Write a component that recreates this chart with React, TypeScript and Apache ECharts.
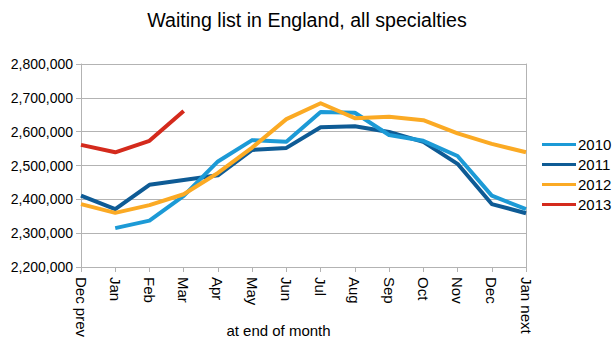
import React, { useEffect, useRef } from "react";
import * as echarts from "echarts";

const categories = ["Dec prev", "Jan", "Feb", "Mar", "Apr", "May", "Jun", "Jul", "Aug", "Sep", "Oct", "Nov", "Dec", "Jan next"];
const yTicks = { min: 2200000, max: 2800000, interval: 100000 };

const s2010 = [null, 2315000, 2337000, 2410000, 2512000, 2575000, 2570000, 2658000, 2656000, 2590000, 2573000, 2528000, 2411000, 2371000];
const s2011 = [2411000, 2371000, 2443000, 2457000, 2471000, 2546000, 2552000, 2613000, 2616000, 2599000, 2570000, 2505000, 2386000, 2359000];
const s2012 = [2386000, 2360000, 2383000, 2415000, 2478000, 2553000, 2637000, 2684000, 2640000, 2644000, 2634000, 2595000, 2564000, 2539000];
const s2013 = [2561000, 2539000, 2573000, 2661000, null, null, null, null, null, null, null, null, null, null];

const seriesNames = ["2010", "2011", "2012", "2013"];
const colors = ["#1c9ad6", "#0e5b95", "#fbaa24", "#d42a1c"];

const FONT = "'Liberation Sans', Arial, sans-serif";
const GRID_COLOR = "#b3b3b3";

export default function App() {
  const ref = useRef<HTMLDivElement>(null);
  useEffect(() => {
    if (!ref.current) return;
    const chart = echarts.init(ref.current, undefined, { renderer: "svg" });
    const data = [s2010, s2011, s2012, s2013];
    chart.setOption({
      animation: false,
      backgroundColor: "#ffffff",
      textStyle: { fontFamily: FONT },
      title: {
        text: "Waiting list in England, all specialties",
        left: 302,
        textAlign: "center",
        top: 5,
        textStyle: { fontFamily: FONT, fontSize: 19.6, fontWeight: "normal", color: "#000" },
      },
      legend: {
        orient: "vertical",
        left: 537,
        top: 132,
        icon: "rect",
        itemWidth: 34,
        itemHeight: 3,
        itemGap: 5,
        data: seriesNames,
        textStyle: { fontFamily: FONT, fontSize: 15, color: "#000", padding: [0, 0, 0, -3] },
      },
      grid: { left: 81, right: 89, top: 64, bottom: 90, containLabel: false },
      xAxis: {
        type: "category",
        data: categories,
        boundaryGap: false,
        name: "at end of month",
        nameLocation: "middle",
        nameGap: 56,
        nameMoveOverlap: false,
        nameTextStyle: { fontFamily: FONT, fontSize: 15, color: "#000", padding: [0, 50, 0, 0] },
        axisLine: { lineStyle: { color: GRID_COLOR, width: 1 } },
        axisTick: { show: true, length: 5, alignWithLabel: true, lineStyle: { color: GRID_COLOR } },
        axisLabel: { rotate: -90, margin: 10, fontFamily: FONT, fontSize: 15, color: "#000", interval: 0 },
        splitLine: { show: false },
      },
      yAxis: [
        {
          type: "value",
          min: yTicks.min,
          max: yTicks.max,
          interval: yTicks.interval,
          axisLine: { show: true, lineStyle: { color: GRID_COLOR, width: 1 } },
          axisTick: { show: true, length: 5, lineStyle: { color: GRID_COLOR } },
          axisLabel: {
            margin: 8,
            fontFamily: FONT,
            fontSize: 14,
            color: "#000",
            formatter: (v: number) => v.toLocaleString("en-US"),
          },
          splitLine: { show: true, lineStyle: { color: GRID_COLOR, width: 1 } },
        },
        {
          type: "value",
          position: "right",
          min: yTicks.min,
          max: yTicks.max,
          interval: yTicks.interval,
          axisLine: { show: true, lineStyle: { color: GRID_COLOR, width: 1 } },
          axisTick: { show: false },
          axisLabel: { show: false },
          splitLine: { show: false },
        },
      ],
      series: seriesNames.map((name, i) => ({
        name,
        type: "line",
        yAxisIndex: 0,
        data: data[i],
        showSymbol: false,
        symbol: "none",
        connectNulls: false,
        lineStyle: { width: 4, color: colors[i], join: "round" },
        itemStyle: { color: colors[i] },
        z: i === 0 ? 3 : i === 1 ? 2 : i === 2 ? 4 : 5,
      })),
    });
    return () => chart.dispose();
  }, []);
  return (
    <div style={{ position: "absolute", left: 0, top: 0, width: 615, height: 357 }}>
      <div ref={ref} style={{ width: 615, height: 357 }} />
    </div>
  );
}
